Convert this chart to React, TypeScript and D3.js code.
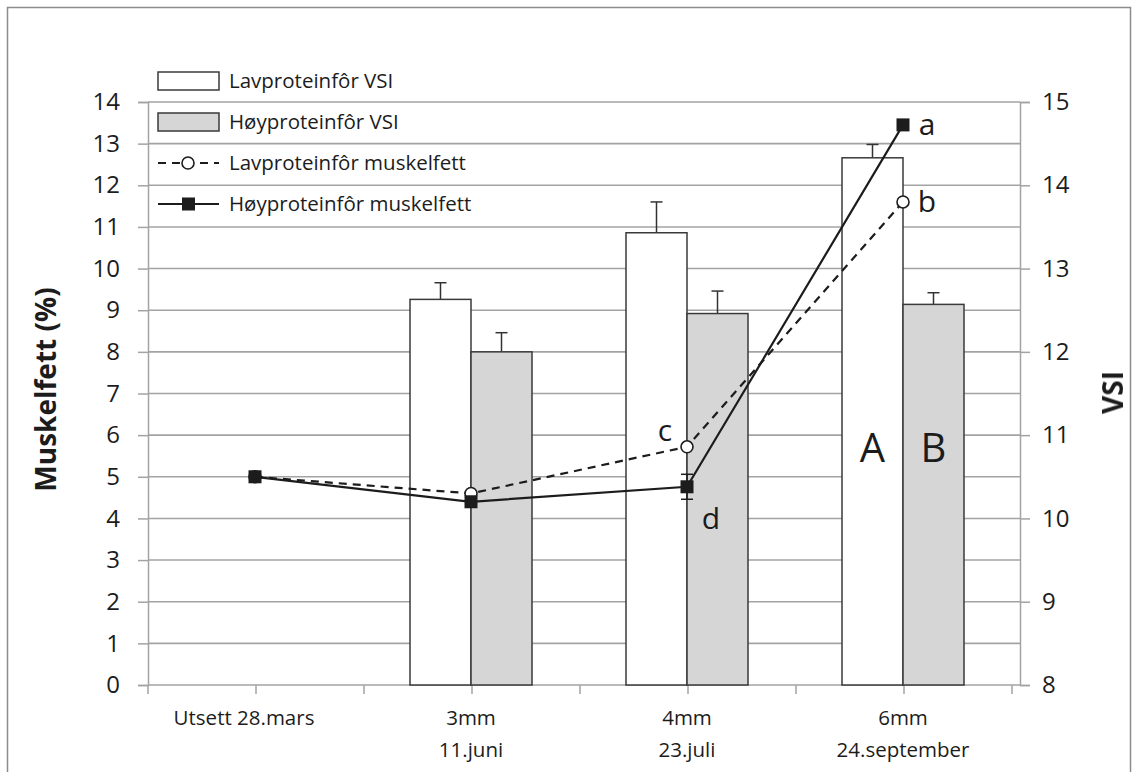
import { useEffect, useRef } from 'react';
import * as d3 from 'd3';

const categories = ['Utsett 28.mars', '3mm\n11.juni', '4mm\n23.juli', '6mm\n24.september'];

// VSI bars (right axis), null where no bar
const lavVsi = [null, 12.63, 13.43, 14.33];
const hoyVsi = [null, 12.0, 12.46, 12.57];
const lavVsiErr = [0, 0.2, 0.37, 0.16];
const hoyVsiErr = [0, 0.23, 0.27, 0.14];

// muskelfett lines (left axis)
const lavFett = [5.0, 4.6, 5.72, 11.6];
const hoyFett = [5.0, 4.4, 4.76, 13.45];
const hoyFettErr = [0, 0.12, 0.3, 0];

const leftTicks = d3.range(0, 15);
const rightTicks = d3.range(8, 16);

const letters = [
  { cat: 3, value: 13.45, text: 'a' },
  { cat: 3, value: 11.6, text: 'b' },
  { cat: 2, value: 6.1, text: 'c', dx: -22 },
  { cat: 2, value: 4.0, text: 'd', dx: 24 },
];

const legendItems = [
  { label: 'Lavproteinfôr VSI', kind: 'bar', fill: '#ffffff' },
  { label: 'Høyproteinfôr VSI', kind: 'bar', fill: '#d6d6d6' },
  { label: 'Lavproteinfôr muskelfett', kind: 'lav' },
  { label: 'Høyproteinfôr muskelfett', kind: 'hoy' },
];

const FONT = "'Open Sans', sans-serif";
const GRID = '#a3a3a3';
const INK = '#1c1c1c';

export default function App() {
  const svgRef = useRef<SVGSVGElement>(null);
  const width = 1133;
  const height = 772;

  useEffect(() => {
    if (!svgRef.current) return;
    const svg = d3.select(svgRef.current);
    svg.selectAll('*').remove();

    const margin = { top: 102, right: 113, bottom: 87, left: 148 };
    const plotW = width - margin.left - margin.right;
    const plotH = height - margin.top - margin.bottom;

    svg
      .append('rect')
      .attr('x', 7.5)
      .attr('y', 7.5)
      .attr('width', 1123)
      .attr('height', 790)
      .attr('fill', '#ffffff')
      .attr('stroke', '#8c8c8c')
      .attr('stroke-width', 1.5);

    const chart = svg.append('g').attr('transform', `translate(${margin.left},${margin.top})`);

    const x = d3.scaleBand<number>().domain(d3.range(categories.length)).range([0, plotW - 8]).padding(0);
    const barW = 61;
    const yL = d3.scaleLinear().domain([0, 14]).range([plotH, 0]);
    const yR = d3.scaleLinear().domain([8, 15]).range([plotH, 0]);
    const cx = (i: number) => (x(i) ?? 0) + x.bandwidth() / 2 - 1;

    // gridlines
    chart
      .append('g')
      .selectAll('line')
      .data(leftTicks.slice(1))
      .join('line')
      .attr('x1', 0)
      .attr('x2', plotW)
      .attr('y1', (d) => yL(d))
      .attr('y2', (d) => yL(d))
      .attr('stroke', GRID)
      .attr('stroke-width', 1.6);

    // left axis
    chart
      .append('g')
      .call(d3.axisLeft(yL).tickValues(leftTicks).tickSize(10).tickPadding(18))
      .call((g) => {
        g.select('.domain').attr('stroke', GRID).attr('stroke-width', 1.5);
        g.selectAll('.tick line').attr('stroke', GRID).attr('stroke-width', 1.5);
        g.selectAll('.tick text')
          .attr('fill', INK)
          .attr('font-size', 24)
          .attr('font-family', FONT);
      });

    // right axis
    chart
      .append('g')
      .attr('transform', `translate(${plotW},0)`)
      .call(d3.axisRight(yR).tickValues(rightTicks).tickFormat(d3.format('d')).tickSize(10).tickPadding(12))
      .call((g) => {
        g.select('.domain').attr('stroke', GRID).attr('stroke-width', 1.5);
        g.selectAll('.tick line').attr('stroke', GRID).attr('stroke-width', 1.5);
        g.selectAll('.tick text')
          .attr('fill', INK)
          .attr('font-size', 24)
          .attr('font-family', FONT);
      });

    // bottom axis: ticks at band edges and centers
    const xTickPos = d3.range(categories.length * 2 + 1).map((k) => (k * x.bandwidth()) / 2);
    chart
      .append('line')
      .attr('x1', 0)
      .attr('x2', plotW)
      .attr('y1', plotH)
      .attr('y2', plotH)
      .attr('stroke', GRID)
      .attr('stroke-width', 1.6);
    chart
      .append('g')
      .selectAll('line')
      .data(xTickPos)
      .join('line')
      .attr('x1', (d) => d)
      .attr('x2', (d) => d)
      .attr('y1', plotH)
      .attr('y2', plotH + 9)
      .attr('stroke', GRID)
      .attr('stroke-width', 1.5);

    const xl = chart
      .append('g')
      .selectAll('text')
      .data(categories)
      .join('text')
      .attr('text-anchor', 'middle')
      .attr('fill', INK)
      .attr('font-size', 20.5)
      .attr('font-family', FONT)
      .attr('transform', (_, i) => `translate(${cx(i) - (i === 0 ? 11 : 0)},${plotH + 40})`);
    xl.selectAll('tspan')
      .data((d) => d.split('\n'))
      .join('tspan')
      .attr('x', 0)
      .attr('dy', (_, j) => (j === 0 ? 0 : 32))
      .text((d) => d);

    // bars
    const bars = chart.append('g');
    const series = [
      { values: lavVsi, err: lavVsiErr, fill: '#ffffff', off: -barW },
      { values: hoyVsi, err: hoyVsiErr, fill: '#d6d6d6', off: 0 },
    ];
    series.forEach((s) => {
      s.values.forEach((v, i) => {
        if (v === null) return;
        const bx = cx(i) + s.off;
        bars
          .append('line')
          .attr('x1', bx + barW / 2)
          .attr('x2', bx + barW / 2)
          .attr('y1', yR(v))
          .attr('y2', yR(v + s.err[i]))
          .attr('stroke', '#333')
          .attr('stroke-width', 1.5);
        bars
          .append('line')
          .attr('x1', bx + barW / 2 - 6)
          .attr('x2', bx + barW / 2 + 6)
          .attr('y1', yR(v + s.err[i]))
          .attr('y2', yR(v + s.err[i]))
          .attr('stroke', '#333')
          .attr('stroke-width', 1.5);
        bars
          .append('rect')
          .attr('x', bx)
          .attr('y', yR(v))
          .attr('width', barW)
          .attr('height', plotH - yR(v))
          .attr('fill', s.fill)
          .attr('stroke', '#3a3a3a')
          .attr('stroke-width', 1.5);
      });
    });

    // lines
    const line = d3
      .line<number>()
      .x((_, i) => cx(i))
      .y((d) => yL(d));

    // error bars on high-protein line
    hoyFett.forEach((v, i) => {
      const e = hoyFettErr[i];
      if (!e) return;
      chart
        .append('line')
        .attr('x1', cx(i))
        .attr('x2', cx(i))
        .attr('y1', yL(v - e))
        .attr('y2', yL(v + e))
        .attr('stroke', INK)
        .attr('stroke-width', 1.5);
      [v - e, v + e].forEach((t) =>
        chart
          .append('line')
          .attr('x1', cx(i) - 6)
          .attr('x2', cx(i) + 6)
          .attr('y1', yL(t))
          .attr('y2', yL(t))
          .attr('stroke', INK)
          .attr('stroke-width', 1.5)
      );
    });

    chart
      .append('path')
      .datum(lavFett)
      .attr('fill', 'none')
      .attr('stroke', INK)
      .attr('stroke-width', 2.2)
      .attr('stroke-dasharray', '8 6')
      .attr('d', line);
    chart
      .append('path')
      .datum(hoyFett)
      .attr('fill', 'none')
      .attr('stroke', INK)
      .attr('stroke-width', 2.2)
      .attr('d', line);

    chart
      .append('g')
      .selectAll('circle')
      .data(lavFett)
      .join('circle')
      .attr('cx', (_, i) => cx(i))
      .attr('cy', (d) => yL(d))
      .attr('r', 6)
      .attr('fill', '#fff')
      .attr('stroke', INK)
      .attr('stroke-width', 1.6);
    chart
      .append('g')
      .selectAll('rect')
      .data(hoyFett)
      .join('rect')
      .attr('x', (_, i) => cx(i) - 6.5)
      .attr('y', (d) => yL(d) - 6.5)
      .attr('width', 13)
      .attr('height', 13)
      .attr('fill', INK);

    // significance letters
    chart
      .append('g')
      .selectAll('text')
      .data(letters)
      .join('text')
      .attr('x', (d) => cx(d.cat) + (d.dx ?? 24))
      .attr('y', (d) => yL(d.value))
      .attr('dy', '0.35em')
      .attr('text-anchor', 'middle')
      .attr('fill', INK)
      .attr('font-size', 30)
      .attr('font-family', FONT)
      .text((d) => d.text);

    chart
      .append('text')
      .attr('x', cx(3) - barW / 2)
      .attr('y', yL(5.7))
      .attr('dy', '0.35em')
      .attr('text-anchor', 'middle')
      .attr('fill', INK)
      .attr('font-size', 40)
      .attr('font-family', FONT)
      .text('A');
    chart
      .append('text')
      .attr('x', cx(3) + barW / 2)
      .attr('y', yL(5.7))
      .attr('dy', '0.35em')
      .attr('text-anchor', 'middle')
      .attr('fill', INK)
      .attr('font-size', 40)
      .attr('font-family', FONT)
      .text('B');

    // axis titles
    svg
      .append('text')
      .attr('transform', `translate(56,${margin.top + plotH / 2 - 4}) rotate(-90)`)
      .attr('text-anchor', 'middle')
      .attr('fill', INK)
      .attr('font-size', 28)
      .attr('font-weight', 'bold')
      .attr('font-family', FONT)
      .text('Muskelfett (%)');
    svg
      .append('text')
      .attr('transform', `translate(1123,${margin.top + plotH / 2 - 1}) rotate(-90)`)
      .attr('text-anchor', 'middle')
      .attr('fill', INK)
      .attr('font-size', 28)
      .attr('font-weight', 'bold')
      .attr('font-family', FONT)
      .text('VSI');

    // legend
    const legend = svg.append('g').attr('transform', 'translate(158,81)');
    legendItems.forEach((item, i) => {
      const g = legend.append('g').attr('transform', `translate(0,${i * 41})`);
      if (item.kind === 'bar') {
        g.append('rect')
          .attr('x', 0)
          .attr('y', -9)
          .attr('width', 61)
          .attr('height', 18)
          .attr('fill', item.fill ?? '#fff')
          .attr('stroke', '#3a3a3a')
          .attr('stroke-width', 1.5);
      } else if (item.kind === 'lav') {
        g.append('line')
          .attr('x1', 0)
          .attr('x2', 61)
          .attr('stroke', INK)
          .attr('stroke-width', 2.2)
          .attr('stroke-dasharray', '8 6');
        g.append('circle').attr('cx', 30).attr('r', 6).attr('fill', '#fff').attr('stroke', INK).attr('stroke-width', 1.6);
      } else {
        g.append('line').attr('x1', 0).attr('x2', 61).attr('stroke', INK).attr('stroke-width', 2.2);
        g.append('rect').attr('x', 24).attr('y', -6.5).attr('width', 13).attr('height', 13).attr('fill', INK);
      }
      g.append('text')
        .attr('x', 71)
        .attr('dy', '0.35em')
        .attr('fill', INK)
        .attr('font-size', 20.5)
        .attr('font-family', FONT)
        .text(item.label);
    });
  }, []);

  return (
    <div style={{ position: 'fixed', left: 0, top: 0 }}>
      <svg ref={svgRef} width={width} height={height} viewBox={`0 0 ${width} ${height}`} style={{ display: 'block' }} />
    </div>
  );
}
